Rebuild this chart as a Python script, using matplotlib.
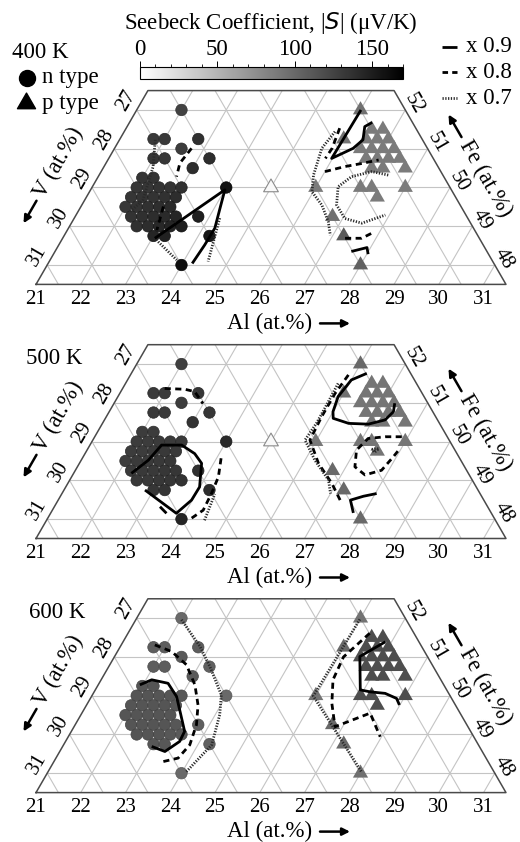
import numpy as np
import matplotlib.pyplot as plt
from matplotlib.colors import Normalize
from matplotlib.cm import ScalarMappable
from matplotlib.ticker import MultipleLocator
from matplotlib.path import Path

plt.rcParams['font.family'] = ['Liberation Serif', 'DejaVu Sans']

W, H = 520, 842
PX = 44.76                     # pixels per at.% along Al
SQ3 = np.sqrt(3) / 2
FE_LO, FE_HI = 47.5, 52.5      # Fe window of each trapezoid
FS = 16.5                      # labels
FT = 15                        # edge tick numbers

temps = ['400 K', '500 K', '600 K']
panel_bottom = [284.4, 538.5, 792.6]   # pixel row of the Fe = 47.5 edge

# ---- n-type samples (circles): Al, Fe in at.%, V is the balance ----
n_al = [22.0, 21.75, 22.0, 22.75, 22.5, 22.0, 22.25, 23.25, 23.0, 24.0, 23.75, 24.25, 24.0,
        22.0, 22.25,
        22.0, 22.25, 22.5, 22.75, 23.0,
        22.0, 22.25, 22.5, 22.75, 23.0,
        22.0, 22.25, 22.5, 22.75, 23.0,
        22.25, 22.5, 22.75, 23.0, 23.25,
        22.5, 22.75, 23.0, 23.25, 23.5,
        23.0, 23.25]
n_fe = [52.0, 51.25, 51.25, 51.25, 51.0, 50.75, 50.75, 50.75, 50.5, 50.0, 49.25, 48.75, 48.0,
        50.25, 50.25,
        50.0, 50.0, 50.0, 50.0, 50.0,
        49.75, 49.75, 49.75, 49.75, 49.75,
        49.5, 49.5, 49.5, 49.5, 49.5,
        49.25, 49.25, 49.25, 49.25, 49.25,
        49.0, 49.0, 49.0, 49.0, 49.0,
        48.75, 48.75]
n_s400 = [126, 132, 132, 138, 130, 134, 134, 140, 140, 158, 150, 155, 160,
          135, 135,
          134, 134, 136, 136, 138,
          134, 135, 136, 137, 140,
          133, 135, 137, 139, 142,
          136, 138, 140, 142, 145,
          138, 140, 143, 146, 150,
          145, 148]
n_s500 = [128, 132, 132, 134, 130, 132, 132, 134, 136, 142, 138, 140, 146,
          130, 130,
          130, 130, 131, 131, 132,
          130, 130, 131, 132, 132,
          130, 131, 131, 132, 133,
          131, 132, 132, 133, 134,
          132, 132, 133, 134, 136,
          134, 135]
n_s600 = [100, 108, 108, 108, 110, 108, 108, 105, 110, 100, 107, 105, 100,
          113, 113,
          113, 113, 113, 113, 112,
          113, 113, 113, 113, 113,
          113, 113, 113, 113, 113,
          113, 113, 113, 113, 112,
          113, 113, 113, 112, 110,
          112, 112]

# ---- p-type samples (triangles) ----
p_al = [25.0, 26.0, 26.0, 26.0, 26.75, 27.25, 28.0,
        26.5, 26.75,
        26.5, 26.75, 27.0,
        26.5, 26.75, 27.0, 27.25,
        26.75, 27.0, 27.25, 27.5,
        27.0, 27.25, 27.75,
        27.0, 27.25, 28.0,
        27.5]
p_fe = [50.0, 52.0, 51.25, 50.0, 49.25, 48.75, 48.0,
        51.5, 51.5,
        51.25, 51.25, 51.25,
        51.0, 51.0, 51.0, 51.0,
        50.75, 50.75, 50.75, 50.75,
        50.5, 50.5, 50.5,
        50.0, 50.0, 50.0,
        49.75]
p_s400 = [4, 95, 92, 88, 95, 110, 105] + [88] * 20
p_s500 = [4, 100, 95, 90, 100, 100, 100] + [92] * 20
p_s600 = [np.nan, 93, 100, 93, 100, 100, 95] + [118] * 20

# ---- iso-|S| lines (fraction of the maximum), per temperature ----
lines400 = [
    ('0.9', [23.06, 24.0, 24.13, 24.27, 24.26, 24.22], [48.69, 49.94, 49.46, 48.95, 48.52, 48.04]),
    ('0.9', [26.01, 25.98, 26.33, 26.44, 26.31, 26.42], [52.0, 50.75, 51.01, 51.23, 51.57, 51.68]),
    ('0.9', [27.62, 27.92, 28.03], [48.35, 48.45, 48.28]),
    ('0.8', [22.72, 22.65, 22.75], [51.01, 50.63, 50.28]),
    ('0.8', [22.84, 23.0], [49.51, 48.9]),
    ('0.8', [25.77, 25.86, 25.84], [51.53, 51.01, 50.75]),
    ('0.8', [26.0, 26.38, 26.72, 27.05], [50.41, 50.54, 50.62, 50.71]),
    ('0.8', [27.31, 27.68, 27.89], [48.69, 48.69, 48.86]),
    ('0.7', [21.8, 22.1, 22.3, 22.16], [51.23, 50.53, 49.68, 49.37]),
    ('0.7', [23.18, 23.83], [48.6, 48.13]),
    ('0.7', [24.25, 24.55], [49.21, 48.09]),
    ('0.7', [25.71, 25.63, 25.79, 25.97, 26.36, 26.72, 26.94],
            [51.44, 51.01, 50.32, 49.89, 49.55, 49.12, 48.77]),
    ('0.7', [27.46, 27.05, 26.66, 26.49, 26.69, 27.05, 27.49, 27.91],
            [50.32, 50.41, 50.28, 50.02, 49.55, 49.2, 49.08, 49.29]),
]
lines500 = [
    ('0.9', [22.29, 22.50, 22.60, 23.05, 23.45, 23.73, 23.99, 23.98, 23.81, 22.81],
            [49.18, 49.52, 49.91, 49.91, 49.69, 49.44, 48.83, 48.49, 48.15, 48.75]),
    ('0.9', [23.36, 23.59], [48.32, 48.15]),
    ('0.9', [26.26, 26.0, 25.92, 26.0, 26.09, 26.5, 26.95, 27.27, 27.35, 27.27],
            [51.76, 51.59, 51.16, 50.77, 50.60, 50.47, 50.45, 50.56, 50.77, 50.99]),
    ('0.9', [28.03, 27.77, 27.53, 27.76], [48.66, 48.59, 48.49, 48.16]),
    ('0.8', [21.94, 22.4, 22.65, 22.99], [51.37, 51.35, 51.29, 50.98]),
    ('0.8', [24.1, 24.28, 24.34, 24.37, 24.21], [49.57, 49.09, 48.66, 48.23, 48.02]),
    ('0.8', [25.87, 25.81, 25.81, 25.85, 26.34, 26.9, 27.3],
            [51.72, 51.24, 50.64, 50.04, 49.44, 48.92, 48.49]),
    ('0.8', [27.86, 27.49, 27.13, 27.02, 27.2, 27.53, 27.84, 27.93, 27.97],
            [50.125, 50.125, 50.08, 49.78, 49.35, 49.14, 49.26, 49.61, 49.82]),
    ('0.7', [24.53, 24.42], [47.97, 48.65]),
    ('0.7', [25.75, 25.77, 25.78, 25.74, 26.22, 26.78, 27.0],
            [51.5, 50.94, 50.47, 50.04, 49.52, 49.01, 48.66]),
    ('0.7', [27.35, 27.5, 27.45, 27.35], [49.8, 49.82, 49.72, 49.8]),
]
lines600 = [
    ('0.9', [21.93, 22.13, 22.54, 22.9, 23.23, 23.53, 23.55, 23.35, 22.99],
            [50.28, 50.41, 50.32, 49.98, 49.51, 49.08, 48.82, 48.56, 48.69]),
    ('0.9', [26.86, 26.48, 26.92, 27.16, 27.52, 27.84, 27.99],
            [51.39, 51.01, 50.15, 50.10, 50.06, 49.93, 49.76]),
    ('0.8', [21.75, 22.21, 22.71, 23.16, 23.49, 23.71, 23.82, 23.73, 23.44],
            [51.31, 51.14, 50.80, 50.28, 49.76, 49.25, 48.73, 48.39, 48.30]),
    ('0.8', [26.4, 26.12, 26.18, 26.46, 26.83, 27.44, 27.97],
            [51.61, 51.0, 50.41, 49.80, 49.2, 49.55, 48.94]),
    ('0.7', [22.02, 22.78, 23.26, 23.88, 24.1, 24.31, 24.09],
            [51.96, 51.27, 50.75, 50.02, 49.51, 48.73, 48.04]),
    ('0.7', [26.0, 25.95, 28.0], [51.97, 49.99, 48.04]),
]

n_vals = [n_s400, n_s500, n_s600]
p_vals = [p_s400, p_s500, p_s600]
iso_lines = [lines400, lines500, lines600]

LINE = {
    '0.9': dict(color='black', lw=2.0, ls='-', solid_capstyle='butt'),
    '0.8': dict(color='black', lw=2.0, ls=(0, (2.2, 1.6))),
    '0.7': dict(color='#2a2a2a', lw=2.0, ls=(0, (0.45, 0.55))),
}
GRID = '#c4c4c4'
ARROW = dict(arrowstyle='-|>', color='black', lw=1.8, mutation_scale=11,
             shrinkA=0, shrinkB=0)


def tern(al, fe):
    al = np.asarray(al, float)
    fe = np.asarray(fe, float)
    return al + fe / 2, fe * SQ3


norm = Normalize(0, 170)
cmap = plt.cm.gray_r
r3 = 1 / np.sqrt(3)
tri = Path([(0, r3), (-0.5, -0.5 * r3), (0.5, -0.5 * r3), (0, r3)], closed=True)

fig = plt.figure(figsize=(W / 100, H / 100), dpi=100)
x_left = 44.75 - 36 / PX
x_right = x_left + W / PX
h_px = (FE_HI - FE_LO) * SQ3 * PX

for i, yb in enumerate(panel_bottom):
    ax = fig.add_axes([0, (H - yb) / H, 1, h_px / H])
    ax.set_xlim(x_left, x_right)
    ax.set_ylim(FE_LO * SQ3, FE_HI * SQ3)
    ax.axis('off')

    # triangular grid
    for fe in range(48, 53):
        ax.plot(*tern([21, 79 - fe], [fe, fe]), color=GRID, lw=0.8, zorder=1)
    for al in range(22, 32):
        top = min(FE_HI, 79 - al)
        ax.plot(*tern([al, al], [FE_LO, top]), color=GRID, lw=0.8, zorder=1)
    for v in range(22, 32):
        top = min(FE_HI, 79 - v)
        ax.plot(*tern([100 - v - FE_LO, 100 - v - top], [FE_LO, top]),
                color=GRID, lw=0.8, zorder=1)
    ax.plot(*tern([21, 31.5, 26.5, 21, 21], [FE_LO, FE_LO, FE_HI, FE_HI, FE_LO]),
            color='#4a4a4a', lw=1.1, zorder=2, clip_on=False)

    # samples
    ns = np.array(n_vals[i], float)
    ax.scatter(*tern(n_al, n_fe), c=ns, cmap=cmap, norm=norm, s=68, marker='o',
               edgecolors=cmap(norm(ns + 12)), linewidths=0.5, zorder=3)
    ps = np.array(p_vals[i], float)
    ok = ~np.isnan(ps)
    ax.scatter(*tern(np.array(p_al)[ok], np.array(p_fe)[ok]), c=ps[ok], cmap=cmap,
               norm=norm, s=160, marker=tri, edgecolors='none', zorder=3)
    if ok[0]:
        ax.scatter(*tern(p_al[:1], p_fe[:1]), facecolors='none', edgecolors='#8a8a8a',
                   s=150, marker=tri, linewidths=0.8, zorder=4)

    for style, al, fe in iso_lines[i]:
        ax.plot(*tern(al, fe), zorder=5, **LINE[style])

    # edge labels
    for al in range(21, 32):
        ax.annotate(str(al), tern(al, FE_LO), xytext=(0, -11), textcoords='offset points',
                    ha='center', va='center', fontsize=FT)
    for v in range(27, 32):
        ax.annotate(str(v), tern(21, 79 - v), xytext=(-7.2, 6.5), textcoords='offset points',
                    ha='center', va='center', fontsize=FT, rotation=60)
    for fe in range(48, 53):
        ax.annotate(str(fe), tern(79 - fe, fe), xytext=(6.5, 4.3), textcoords='offset points',
                    ha='center', va='center', fontsize=FT, rotation=-60)

# overlay in pixel coordinates for legends, axis titles and arrows
lg = fig.add_axes([0, 0, 1, 1])
lg.set_xlim(0, W)
lg.set_ylim(H, 0)
lg.axis('off')

c60, s60 = 0.5, SQ3
for yb in panel_bottom:
    # Al along the bottom
    lg.text(227, yb + 39, 'Al (at.%)', ha='left', va='center', fontsize=FS)
    lg.annotate('', xy=(350, yb + 39), xytext=(320, yb + 39), arrowprops=ARROW)
    # V up the left edge
    x0, y0 = 39, yb - 88
    lg.text(x0, y0, 'V (at.%)', ha='left', va='center', fontsize=FS,
            rotation=60, rotation_mode='anchor')
    lg.annotate('', xy=(x0 - 31 * c60, y0 + 31 * s60), xytext=(x0 - 5 * c60, y0 + 5 * s60),
                arrowprops=ARROW)
    # Fe down the right edge
    x0, y0 = 464, yb - 143
    lg.text(x0, y0, 'Fe (at.%)', ha='left', va='center', fontsize=FS,
            rotation=-60, rotation_mode='anchor')
    lg.annotate('', xy=(x0 - 31 * c60, y0 - 31 * s60), xytext=(x0 - 5 * c60, y0 - 5 * s60),
                arrowprops=ARROW)

lg.text(12, 52, temps[0], ha='left', va='center', fontsize=FS)
lg.text(26, 358, temps[1], ha='left', va='center', fontsize=FS)
lg.text(29, 613, temps[2], ha='left', va='center', fontsize=FS)

lg.plot([27], [78], 'o', color='black', ms=11.5)
lg.plot([26], [103], marker=tri, color='black', ms=15, ls='none')
lg.text(42, 78, 'n type', ha='left', va='center', fontsize=FS)
lg.text(42, 104, 'p type', ha='left', va='center', fontsize=FS)
for y, key in zip([47, 72, 98], ['0.9', '0.8', '0.7']):
    style = dict(LINE[key])
    if key == '0.8':
        style['ls'] = (0, (2.0, 1.5))
    lg.plot([442, 457], [y, y], **style)
    lg.text(466, y, 'x ' + key, ha='left', va='center', fontsize=FS)

lg.text(271, 23, 'Seebeck Coefficient, |$\\it{S}$| (\u03bcV/K)',
        ha='center', va='center', fontsize=FS)

# colour bar
cax = fig.add_axes([140 / W, 1 - 79 / H, 263 / W, 12 / H])
cb = fig.colorbar(ScalarMappable(norm=norm, cmap=cmap), cax=cax, orientation='horizontal')
cb.outline.set_linewidth(0.8)
cax.xaxis.set_ticks_position('top')
cax.set_xticks([0, 50, 100, 150])
cax.xaxis.set_minor_locator(MultipleLocator(10))
cax.tick_params(which='major', length=4, width=0.7, labelsize=FS, pad=1)
cax.tick_params(which='minor', length=2, width=0.6)

fig.savefig('out.png', dpi=100)
